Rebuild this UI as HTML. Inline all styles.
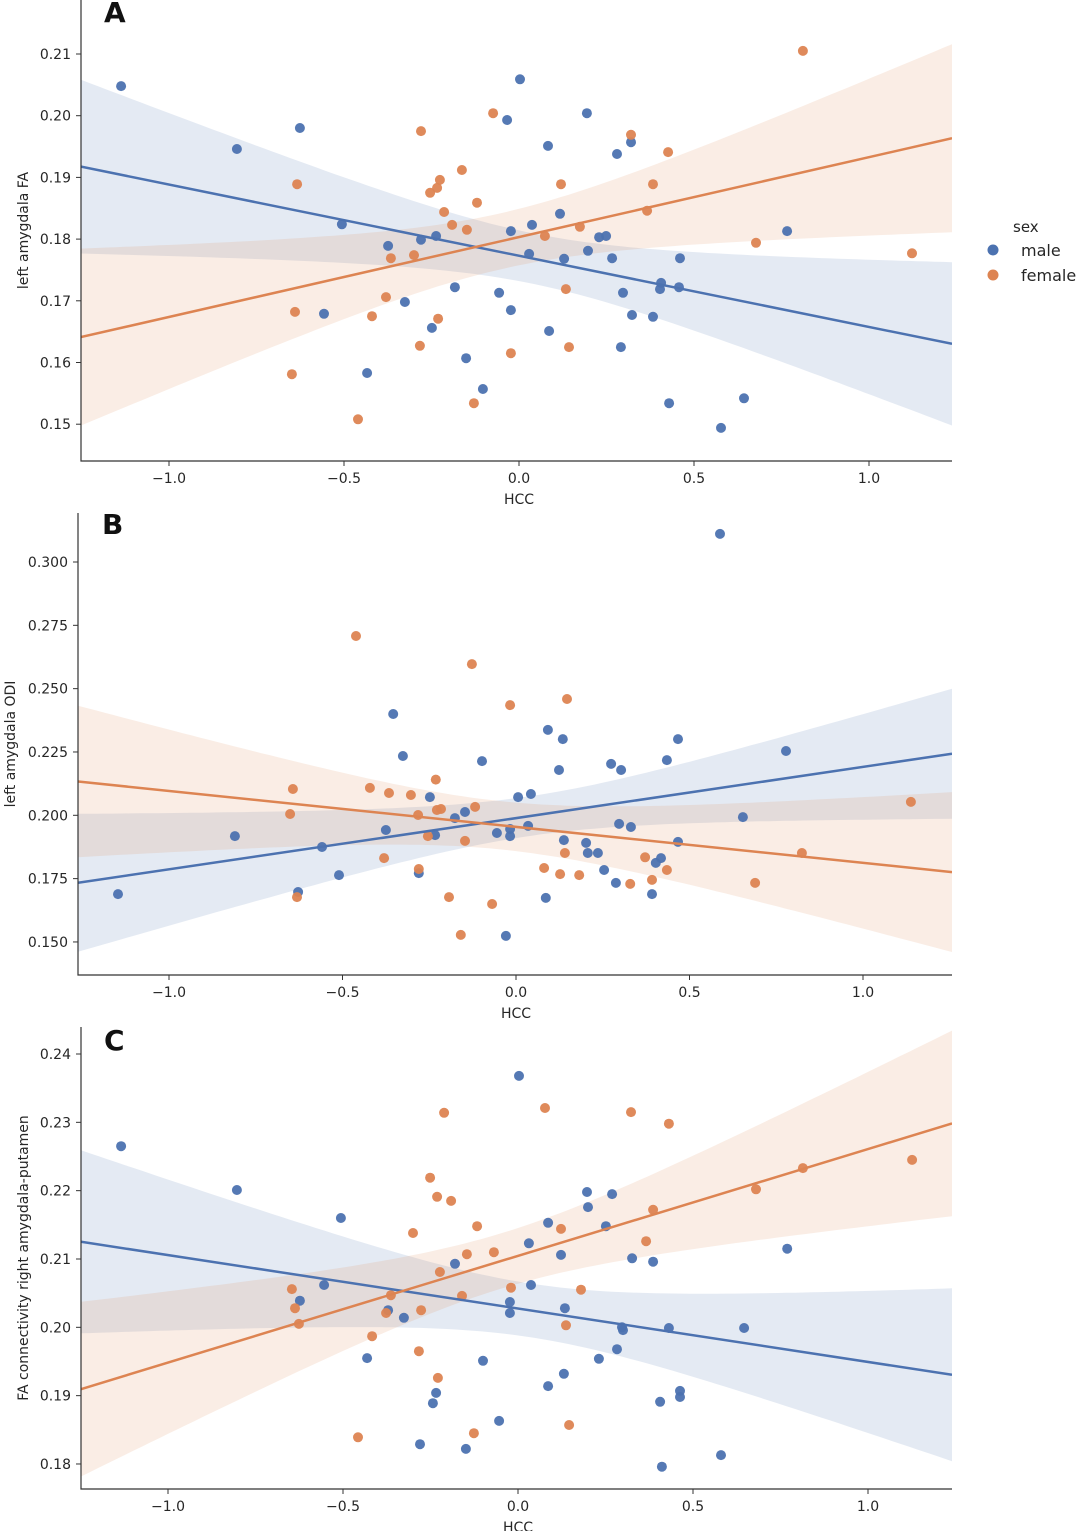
<!DOCTYPE html>
<html><head><meta charset="utf-8"><style>
html,body{margin:0;padding:0;background:#fff}
svg{display:block;font-family:"DejaVu Sans","Liberation Sans",sans-serif}
</style></head><body>
<svg id="chart" width="1080" height="1531" viewBox="0 0 1080 1531" xmlns="http://www.w3.org/2000/svg">
<g id="legend">
<text x="1013" y="232" font-size="15" fill="#262626">sex</text>
<circle cx="993" cy="250" r="5.5" fill="#4c72b0"/>
<text x="1021" y="256" font-size="16" fill="#262626">male</text>
<circle cx="993" cy="275" r="5.5" fill="#dd8452"/>
<text x="1021" y="281" font-size="16" fill="#262626">female</text>
</g>
</svg>
<script>
// ---- Data: panel A (left amygdala FA) ----
const aMaleX=[-1.137,-0.806,-0.626,-0.506,-0.557,-0.374,-0.434,-0.326,-0.280,-0.249,-0.237,-0.183,-0.151,-0.103,-0.057,-0.034,-0.023,-0.023,0.003,0.029,0.037,0.083,0.086,0.117,0.129,0.194,0.197,0.229,0.249,0.266,0.280,0.297,0.291,0.320,0.323,0.383,0.403,0.406,0.429,0.460,0.457,0.577,0.643,0.766];
const aMaleY=[0.2048,0.1946,0.1980,0.1824,0.1679,0.1789,0.1583,0.1698,0.1799,0.1656,0.1805,0.1722,0.1607,0.1557,0.1713,0.1993,0.1685,0.1813,0.2059,0.1776,0.1823,0.1951,0.1651,0.1841,0.1768,0.2004,0.1781,0.1803,0.1805,0.1769,0.1938,0.1713,0.1625,0.1957,0.1677,0.1674,0.1719,0.1729,0.1534,0.1769,0.1722,0.1494,0.1542,0.1813];
const aFemaleX=[-0.634,-0.640,-0.649,-0.460,-0.420,-0.380,-0.366,-0.300,-0.283,-0.280,-0.254,-0.234,-0.226,-0.231,-0.214,-0.191,-0.163,-0.149,-0.129,-0.120,-0.074,-0.023,0.074,0.120,0.134,0.143,0.174,0.320,0.366,0.383,0.426,0.677,0.811,1.123];
const aFemaleY=[0.1889,0.1682,0.1581,0.1508,0.1675,0.1706,0.1769,0.1774,0.1627,0.1975,0.1875,0.1883,0.1896,0.1671,0.1844,0.1823,0.1912,0.1815,0.1534,0.1859,0.2004,0.1615,0.1805,0.1889,0.1719,0.1625,0.1820,0.1969,0.1846,0.1889,0.1941,0.1794,0.2105,0.1777];
const aYTicks=[0.15,0.16,0.17,0.18,0.19,0.20,0.21];
// ---- Data: panel B (left amygdala ODI) ----
const bMaleX=[-1.147,-0.810,-0.559,-0.510,-0.628,-0.354,-0.326,-0.375,-0.280,-0.248,-0.233,-0.176,-0.147,-0.098,-0.055,-0.029,-0.017,-0.017,0.006,0.043,0.035,0.086,0.092,0.124,0.135,0.138,0.202,0.207,0.236,0.254,0.274,0.288,0.297,0.303,0.331,0.392,0.403,0.418,0.435,0.467,0.467,0.588,0.654,0.778];
const bMaleY=[0.1689,0.1918,0.1875,0.1764,0.1697,0.2400,0.2234,0.1942,0.1772,0.2072,0.1922,0.1989,0.2013,0.2214,0.1930,0.1524,0.1946,0.1918,0.2072,0.2084,0.1958,0.1674,0.2337,0.2179,0.2301,0.1902,0.1891,0.1851,0.1851,0.1784,0.2203,0.1733,0.1966,0.2179,0.1954,0.1689,0.1812,0.1831,0.2218,0.1895,0.2301,0.3111,0.1993,0.2254];
const bFemaleX=[-0.643,-0.651,-0.631,-0.461,-0.421,-0.380,-0.366,-0.303,-0.282,-0.280,-0.254,-0.231,-0.228,-0.216,-0.193,-0.159,-0.147,-0.127,-0.118,-0.069,-0.017,0.081,0.127,0.141,0.147,0.182,0.329,0.372,0.392,0.435,0.689,0.824,1.138];
const bFemaleY=[0.2104,0.2005,0.1677,0.2708,0.2108,0.1831,0.2088,0.2080,0.2001,0.1788,0.1918,0.2141,0.2021,0.2025,0.1677,0.1528,0.1899,0.2597,0.2033,0.1650,0.2435,0.1792,0.1768,0.1851,0.2459,0.1764,0.1729,0.1834,0.1745,0.1784,0.1733,0.1851,0.2053];
const bYTicks=[0.150,0.175,0.200,0.225,0.250,0.275,0.300];
// ---- Data: panel C (FA connectivity right amygdala-putamen) ----
const cMaleX=[-1.134,-0.803,-0.623,-0.554,-0.506,-0.431,-0.371,-0.326,-0.280,-0.243,-0.234,-0.180,-0.149,-0.100,-0.054,-0.023,-0.023,0.003,0.031,0.037,0.086,0.086,0.123,0.131,0.134,0.197,0.200,0.231,0.251,0.269,0.283,0.297,0.300,0.326,0.386,0.406,0.411,0.431,0.463,0.463,0.580,0.646,0.769];
const cMaleY=[0.2265,0.2201,0.2039,0.2062,0.2160,0.1955,0.2025,0.2014,0.1829,0.1889,0.1904,0.2093,0.1822,0.1951,0.1863,0.2037,0.2021,0.2368,0.2123,0.2062,0.1914,0.2153,0.2106,0.1932,0.2028,0.2198,0.2176,0.1954,0.2148,0.2195,0.1968,0.2000,0.1996,0.2101,0.2096,0.1891,0.1796,0.1999,0.1907,0.1898,0.1813,0.1999,0.2115];
const cFemaleX=[-0.646,-0.637,-0.626,-0.457,-0.417,-0.377,-0.363,-0.300,-0.283,-0.277,-0.251,-0.231,-0.229,-0.223,-0.211,-0.191,-0.160,-0.146,-0.126,-0.117,-0.069,-0.020,0.077,0.123,0.137,0.146,0.180,0.323,0.366,0.386,0.431,0.680,0.814,1.126];
const cFemaleY=[0.2056,0.2028,0.2005,0.1839,0.1987,0.2021,0.2047,0.2138,0.1965,0.2025,0.2219,0.2191,0.1926,0.2081,0.2314,0.2185,0.2046,0.2107,0.1845,0.2148,0.2110,0.2058,0.2321,0.2144,0.2003,0.1857,0.2055,0.2315,0.2126,0.2172,0.2298,0.2202,0.2233,0.2245];
const cYTicks=[0.18,0.19,0.20,0.21,0.22,0.23,0.24];
const xTicks=[-1.0,-0.5,0.0,0.5,1.0];

const NS='http://www.w3.org/2000/svg';
const svg=document.getElementById('chart');
const BLUE='#4c72b0', ORANGE='#dd8452';
function mk(tag,attrs,parent){const e=document.createElementNS(NS,tag);for(const k in attrs)e.setAttribute(k,attrs[k]);(parent||svg).appendChild(e);return e;}
function fmt(v,d){const s=Math.abs(v).toFixed(d);return (v<0?'\u2212':'')+s;}

function regress(xs,ys){
  const n=xs.length;let mx=0,my=0;for(let i=0;i<n;i++){mx+=xs[i];my+=ys[i];}mx/=n;my/=n;
  let sxx=0,sxy=0;for(let i=0;i<n;i++){sxx+=(xs[i]-mx)**2;sxy+=(xs[i]-mx)*(ys[i]-my);}
  const b=sxy/sxx,a=my-b*mx;let sse=0;for(let i=0;i<n;i++)sse+=(ys[i]-a-b*xs[i])**2;
  const s=Math.sqrt(sse/(n-2));
  return {a,b,ci:x=>2.02*s*Math.sqrt(1/n+(x-mx)**2/sxx)};
}

function panel(cfg){
  const {id,left,right,top,bottom,x0,xs,yRef,yRefPx,ys,yTicks,dec,letter,ylabel,ylabelX,series}=cfg;
  const X=v=>x0+xs*v, Y=v=>yRefPx+(yRef-v)*ys;
  const g=mk('g',{});
  
  
  const cp=mk('clipPath',{id:id+'-clip'},g);mk('rect',{x:left,y:top,width:right-left,height:bottom-top},cp);
  const plot=mk('g',{'clip-path':'url(#'+id+'-clip)'},g);
  const xmin=(left-x0)/xs,xmax=(right-x0)/xs;
  series.forEach(s=>{
    const r=regress(s.x,s.y);const up=[],dn=[];
    for(let i=0;i<=100;i++){const xv=xmin+(xmax-xmin)*i/100;const yv=r.a+r.b*xv,c=r.ci(xv);up.push(X(xv).toFixed(1)+','+Y(yv+c).toFixed(1));dn.unshift(X(xv).toFixed(1)+','+Y(yv-c).toFixed(1));}
    const band=mk('polygon',{points:up.concat(dn).join(' '),fill:s.color,'fill-opacity':0.15,stroke:'none'},plot);
    
    
  });
  series.forEach(s=>{
    s.x.forEach((xv,i)=>{
      const c=mk('circle',{cx:X(xv).toFixed(1),cy:Y(s.y[i]).toFixed(1),r:5,fill:s.color,'fill-opacity':0.95},plot);
      
      
    });
  });
  series.forEach(s=>{
    const r=regress(s.x,s.y);
    const l=mk('line',{x1:X(xmin),y1:Y(r.a+r.b*xmin),x2:X(xmax),y2:Y(r.a+r.b*xmax),stroke:s.color,'stroke-width':2.5},plot);
    
    
  });
  const ax=mk('path',{d:`M${left},${top}V${bottom}H${right}`,stroke:'#333','stroke-width':1.2,fill:'none'},g);
  
  
  yTicks.forEach(t=>{const y=Y(t);mk('line',{x1:left-5,y1:y,x2:left,y2:y,stroke:'#333'},g);
    const tx=mk('text',{x:left-10,y:y+5,'text-anchor':'end','font-size':14,fill:'#262626'},g);tx.textContent=t.toFixed(dec);
    
    });
  xTicks.forEach(t=>{const x=X(t);mk('line',{x1:x,y1:bottom,x2:x,y2:bottom+5,stroke:'#333'},g);
    const tx=mk('text',{x:x,y:bottom+22,'text-anchor':'middle','font-size':14,fill:'#262626'},g);tx.textContent=fmt(t,1);
    
    });
  const xl=mk('text',{x:X(0),y:bottom+43,'text-anchor':'middle','font-size':14,fill:'#262626'},g);xl.textContent='HCC';
  
  
  const cy=(top+bottom)/2;
  const yl=mk('text',{x:ylabelX,y:cy,'text-anchor':'middle','font-size':14,fill:'#262626',transform:`rotate(-90 ${ylabelX} ${cy})`},g);yl.textContent=ylabel;
  
  
  const lt=mk('text',{x:letter[1],y:letter[2],'font-size':28,'font-weight':'bold',fill:'#111'},g);lt.textContent=letter[0];
  
  
}
panel({id:'panel-a',left:81,right:952,top:0,bottom:461,x0:519,xs:350,yRef:0.21,yRefPx:54,ys:6170,yTicks:aYTicks,dec:2,letter:['A',104,22],ylabel:'left amygdala FA',ylabelX:28,
  series:[{name:'male',color:BLUE,x:aMaleX,y:aMaleY},{name:'female',color:ORANGE,x:aFemaleX,y:aFemaleY}]});
panel({id:'panel-b',left:78,right:952,top:513,bottom:975,x0:516,xs:347,yRef:0.3,yRefPx:562,ys:2533,yTicks:bYTicks,dec:3,letter:['B',102,534],ylabel:'left amygdala ODI',ylabelX:15,
  series:[{name:'male',color:BLUE,x:bMaleX,y:bMaleY},{name:'female',color:ORANGE,x:bFemaleX,y:bFemaleY}]});
panel({id:'panel-c',left:81,right:952,top:1027,bottom:1489,x0:518,xs:350,yRef:0.24,yRefPx:1054,ys:6833,yTicks:cYTicks,dec:2,letter:['C',104,1050],ylabel:'FA connectivity right amygdala-putamen',ylabelX:28,
  series:[{name:'male',color:BLUE,x:cMaleX,y:cMaleY},{name:'female',color:ORANGE,x:cFemaleX,y:cFemaleY}]});
</script>
</body></html>
